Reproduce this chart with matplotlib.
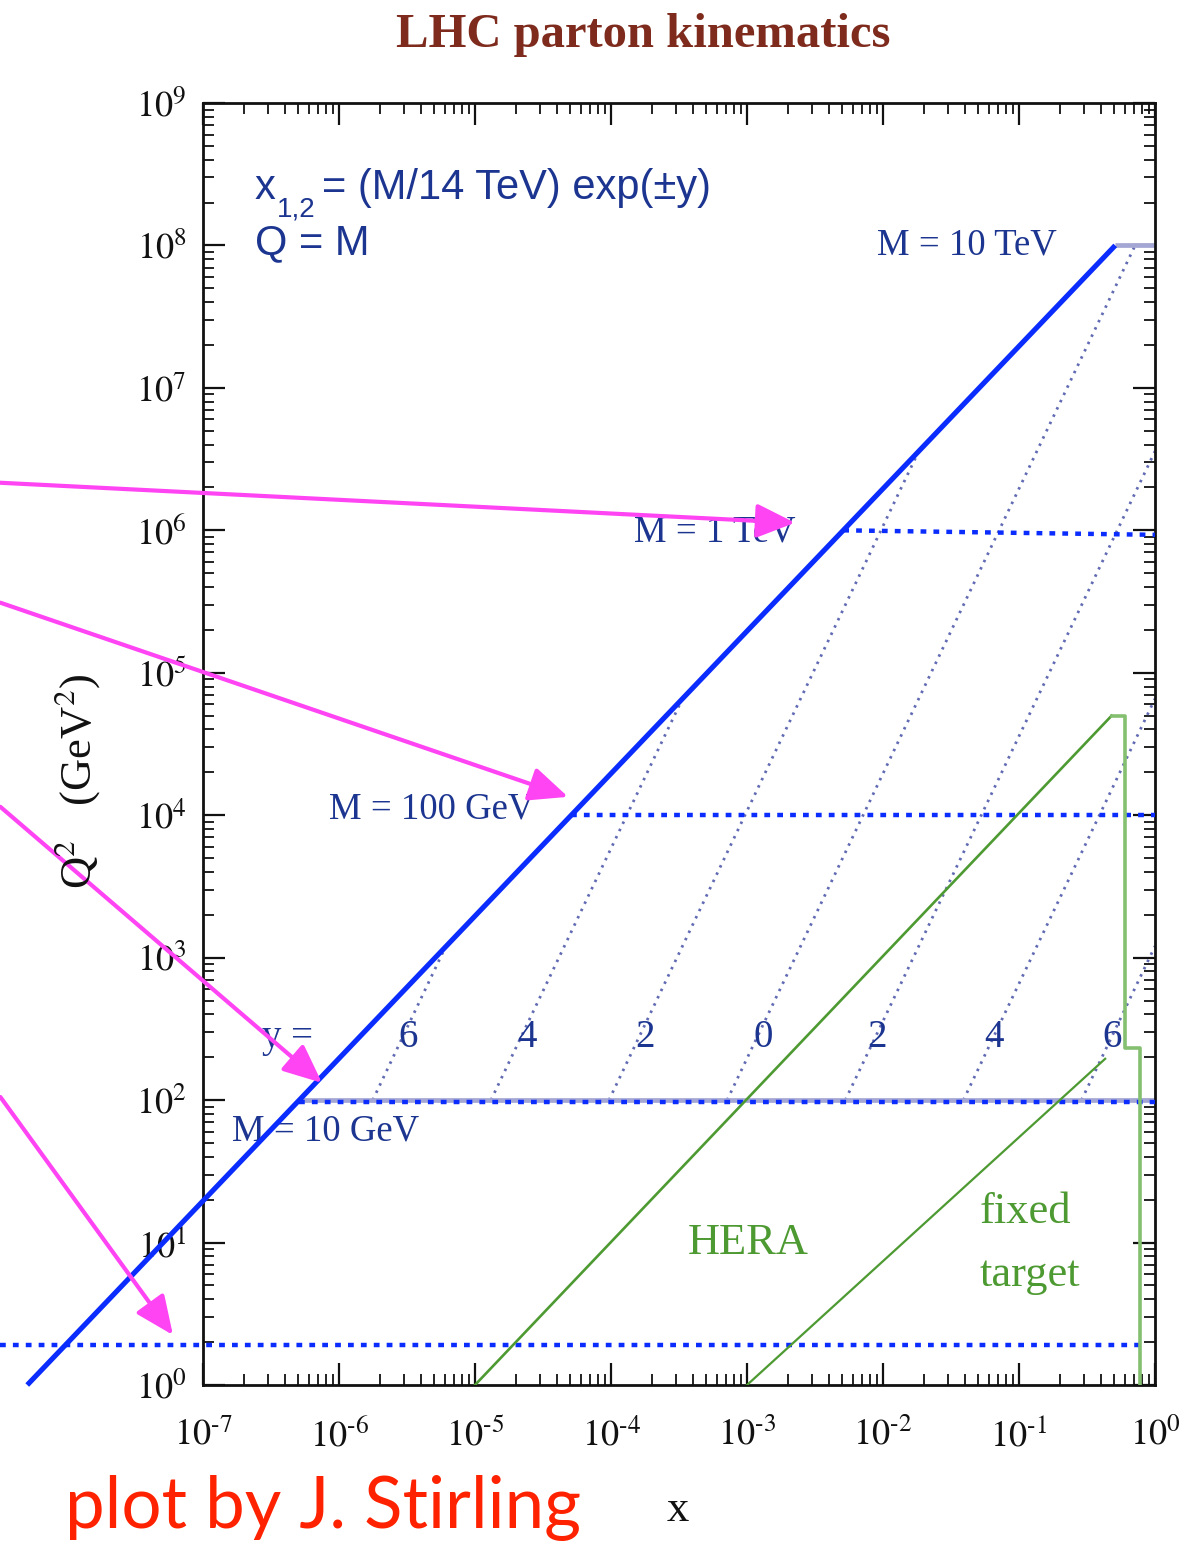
import numpy as np
import matplotlib
matplotlib.use("Agg")
import matplotlib.pyplot as plt
from matplotlib.ticker import LogLocator, FixedLocator, FuncFormatter, NullFormatter

plt.rcParams['mathtext.fontset'] = 'stix'
plt.rcParams['font.family'] = ['Liberation Serif', 'DejaVu Serif']

# ---------------- data ----------------
x_ticks = [1e-7, 1e-6, 1e-5, 1e-4, 1e-3, 1e-2, 1e-1, 1e0]
y_ticks = [1e0, 1e1, 1e2, 1e3, 1e4, 1e5, 1e6, 1e7, 1e8, 1e9]

# kinematic boundary Q^2 = x s (solid blue)
diag_x = [5.1e-9, 0.51]
diag_q2 = [1.0, 1.0e8]

# constant-mass lines: x start, x end, Q2 start, Q2 end
mass_labels = ["M = 10 GeV", "M = 100 GeV", "M = 1 TeV", "M = 10 TeV"]
mass_x0 = [5.1e-7, 5.1e-5, 5.1e-3, 0.51]
mass_x1 = [1.0, 1.0, 1.0, 1.0]
mass_q0 = [1e2, 1e4, 1e6, 1e8]
mass_q1 = [1e2, 1e4, 9.3e5, 1e8]
mass_band = [True, False, False, True]
mass_dotted = [True, True, True, False]

# extra dotted line at low Q2 (slide overlay)
low_x = [3.2e-9, 0.78]
low_q2 = [1.9, 1.9]

# constant-rapidity lines
rap_values = [6, 4, 2, 0, -2, -4, -6]
rap_x0 = [1.77e-6, 1.31e-5, 9.66e-5, 7.14e-4, 5.28e-3, 0.039, 0.288]
rap_q0 = [1e2, 1e2, 1e2, 1e2, 1e2, 1e2, 1e2]
rap_x1 = [6.1e-6, 3.35e-4, 0.0183, 0.714, 1.0, 1.0, 1.0]
rap_q1 = [1204, 6.57e4, 3.59e6, 1e8, 3.59e6, 6.57e4, 1204]
rap_label_x = [3.2e-6, 2.4e-5, 1.78e-4, 1.32e-3, 9.1e-3, 6.6e-2, 0.48]

# HERA region outline
hera_x = [1e-5, 0.48, 0.60, 0.60, 0.77, 0.77]
hera_q2 = [1.0, 5.0e4, 5.0e4, 233, 233, 1.0]

# fixed target line
fixed_x = [1e-3, 0.43]
fixed_q2 = [1.0, 195]

# magenta arrows (tail x, tail Q2, head x, head Q2)
arrow_tail_x = [10**-8.49, 10**-8.49, 10**-8.49, 10**-8.49]
arrow_tail_q2 = [10**6.334, 10**5.492, 10**4.059, 10**2.022]
arrow_head_x = [10**-2.647, 10**-4.316, 10**-6.125, 10**-7.221]
arrow_head_q2 = [10**6.053, 10**4.129, 10**2.121, 10**0.351]

# ---------------- figure ----------------
fig = plt.figure(figsize=(11.96, 15.46), dpi=100)
ax = fig.add_axes([203/1196, 1-1385/1546, 952/1196, 1282/1546])
ax.set_xscale('log')
ax.set_yscale('log')
ax.set_xlim(1e-7, 1)
ax.set_ylim(1, 1e9)

dark_blue = '#1c3590'
bright_blue = '#0a2cff'
band = '#a4a6d4'
green = '#4e9a32'
light_green = '#84c070'

# rapidity lines
for x0, x1, q0, q1 in zip(rap_x0, rap_x1, rap_q0, rap_q1):
    ax.plot([x0, x1], [q0, q1], color='#3a46a0', lw=2.0, alpha=0.8,
            linestyle=(0, (0.9, 2.0)), zorder=2)

# mass lines
for x0, x1, q0, q1, bd, dot in zip(mass_x0, mass_x1, mass_q0, mass_q1, mass_band, mass_dotted):
    if bd:
        ax.plot([x0, x1], [q0, q0], color=band, lw=3.4, solid_capstyle='butt', zorder=2.5)
    if dot:
        f = 0.97 if bd else 1.0
        ax.plot([x0, x1], [q0 * f, q1 * f], color=bright_blue, lw=3.2,
                linestyle=(0, (1.3, 1.6)), zorder=3)

ax.plot(low_x, low_q2, color=bright_blue, lw=3.2, linestyle=(0, (1.3, 1.6)),
        clip_on=False, zorder=3)

# diagonal
ax.plot(diag_x, diag_q2, color=bright_blue, lw=3.7, clip_on=False, zorder=4,
        solid_capstyle='butt')

# HERA and fixed target
ax.plot(hera_x[:2], hera_q2[:2], color=green, lw=1.9, zorder=3)
ax.plot(hera_x[1:], hera_q2[1:], color=light_green, lw=2.6, zorder=3)
ax.plot(fixed_x, fixed_q2, color=green, lw=1.6, zorder=3)

# arrows
for tx, tq, hx, hq in zip(arrow_tail_x, arrow_tail_q2, arrow_head_x, arrow_head_q2):
    ax.annotate('', xy=(hx, hq), xytext=(tx, tq), xycoords='data', textcoords='data',
                annotation_clip=False,
                arrowprops=dict(arrowstyle='-|>,head_length=0.95,head_width=0.42',
                                color='#ff44f4', lw=3.0, mutation_scale=25,
                                shrinkA=0, shrinkB=0), zorder=6)

# text labels
sans = 'Liberation Sans'
ax.text(0.0546, 0.934, 'x', transform=ax.transAxes, fontsize=30, color=dark_blue,
        family=sans, va='center', ha='left')
ax.text(0.0777, 0.917, '1,2', transform=ax.transAxes, fontsize=20, color=dark_blue,
        family=sans, va='center', ha='left')
ax.text(0.125, 0.934, '= (M/14 TeV) exp(\u00b1y)', transform=ax.transAxes, fontsize=30,
        color=dark_blue, family=sans, va='center', ha='left')
ax.text(0.0546, 0.891, 'Q = M', transform=ax.transAxes, fontsize=30, color=dark_blue,
        family=sans, va='center', ha='left')

lab_fs = 26.5
ax.text(10**-0.72, 10**8.0, 'M = 10 TeV', fontsize=lab_fs, color=dark_blue, ha='right', va='center')
ax.text(10**-2.647, 10**5.99, 'M = 1 TeV', fontsize=lab_fs, color=dark_blue, ha='right', va='center')
ax.text(10**-4.56, 10**4.04, 'M = 100 GeV', fontsize=lab_fs, color=dark_blue, ha='right', va='center')
ax.text(10**-6.79, 10**1.78, 'M = 10 GeV', fontsize=lab_fs, color=dark_blue, ha='left', va='center')

ax.text(10**-6.375, 10**2.44, 'y =', fontsize=28, color=dark_blue, ha='center', va='center')
for lx, yv in zip(rap_label_x, rap_values):
    ax.text(lx, 10**2.44, str(abs(yv)), fontsize=28, color=dark_blue, ha='center', va='center')

ax.text(10**-2.993, 10**1.0, 'HERA', fontsize=32, color=green, ha='center', va='center')
ax.text(10**-1.287, 10**1.215, 'fixed', fontsize=32, color=green, ha='left', va='center')
ax.text(10**-1.287, 10**0.77, 'target', fontsize=32, color=green, ha='left', va='center')

# ticks
ax.xaxis.set_major_locator(FixedLocator(x_ticks))
ax.yaxis.set_major_locator(FixedLocator(y_ticks))
ax.xaxis.set_minor_locator(LogLocator(base=10, subs=np.arange(2, 10), numticks=100))
ax.yaxis.set_minor_locator(LogLocator(base=10, subs=np.arange(2, 10), numticks=100))
ax.xaxis.set_minor_formatter(NullFormatter())
ax.yaxis.set_minor_formatter(NullFormatter())


def _fmt(v, p):
    e = int(round(np.log10(v)))
    if e < 0:
        return r'$10^{\text{-}%d}$' % (-e)
    return r'$10^{%d}$' % e


fmt = FuncFormatter(_fmt)
ax.xaxis.set_major_formatter(fmt)
ax.yaxis.set_major_formatter(fmt)
ax.tick_params(which='both', direction='in', top=True, right=True, colors='#111111')
ax.tick_params(which='major', length=16, width=1.6, labelsize=26)
ax.tick_params(which='minor', length=8, width=1.3)
ax.tick_params(axis='x', which='major', pad=24)
ax.tick_params(axis='y', which='major', pad=12)
for s in ax.spines.values():
    s.set_linewidth(2.0)
    s.set_color('#111111')

# titles and axis labels
fig.text(643/1196, 1-35/1546, 'LHC parton kinematics', fontsize=35, fontweight='bold',
         color='#7e2a1c', ha='center', va='center')
fig.text(77/1196, 1-781/1546, r'Q$^2$   (GeV$^2$)', fontsize=32, rotation=90,
         ha='center', va='center', color='#111111')
fig.text(678/1196, 1-1510/1546, 'x', fontsize=32, ha='center', va='center', color='#111111')
fig.text(65/1196, 1-1508/1546, 'plot by J. Stirling', fontsize=51, family='Lato',
         color='#ff2200', ha='left', va='center')

fig.savefig('out.png', dpi=100)
